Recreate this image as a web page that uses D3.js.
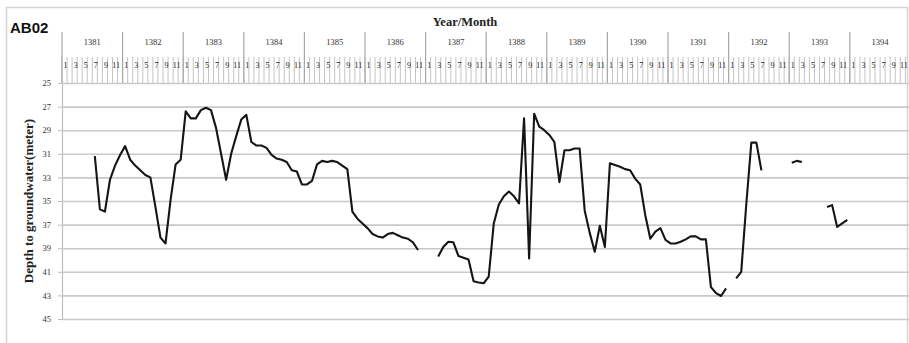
<!DOCTYPE html>
<html><head><meta charset="utf-8">
<script src="https://cdn.jsdelivr.net/npm/d3@7"></script>
<style>body{margin:0;background:#fff}svg{display:block}</style>
</head><body>
<script>
const years = [1381,1382,1383,1384,1385,1386,1387,1388,1389,1390,1391,1392,1393,1394];
const monthLabels = ["1","","3","","5","","7","","9","","11",""];
const yTicks = [25,27,29,31,33,35,37,39,41,43,45];
// depth to groundwater (m), months 1..12 of each year; null = no record
const d1381 = [null,null,null,null,null,null,31.2,35.7,35.9,33.2,32.0,31.1];
const d1382 = [30.35,31.5,32.0,32.4,32.8,33.0,35.5,38.1,38.6,34.9,31.9,31.5];
const d1383 = [27.4,28.0,28.0,27.3,27.1,27.3,28.8,31.0,33.2,31.0,29.5,28.1];
const d1384 = [27.7,30.0,30.3,30.3,30.5,31.1,31.4,31.5,31.7,32.4,32.5,33.6];
const d1385 = [33.6,33.3,31.9,31.6,31.7,31.6,31.7,32.0,32.3,35.9,36.5,36.9];
const d1386 = [37.3,37.8,38.0,38.1,37.8,37.7,37.9,38.1,38.2,38.5,39.15,null];
const d1387 = [null,null,39.7,38.9,38.45,38.5,39.66,39.8,39.95,41.8,41.9,41.97];
const d1388 = [41.4,36.9,35.3,34.6,34.2,34.6,35.2,28.0,39.86,27.6,28.7,29.0];
const d1389 = [29.4,30.0,33.4,30.7,30.7,30.55,30.55,35.8,37.7,39.3,37.1,38.9];
const d1390 = [31.8,31.95,32.1,32.3,32.4,33.1,33.6,36.2,38.2,37.6,37.3,38.3];
const d1391 = [38.6,38.6,38.45,38.25,38.0,38.0,38.25,38.25,42.3,42.8,43.05,42.4];
const d1392 = [null,41.55,41.0,35.3,30.05,30.05,32.4,null,null,null,null,null];
const d1393 = [31.75,31.6,31.7,null,null,null,null,35.5,35.35,37.2,36.9,36.6];
const d1394 = [null,null,null,null,null,null,null,null,null,null,null,null];
const depth = [].concat(d1381,d1382,d1383,d1384,d1385,d1386,d1387,d1388,d1389,d1390,d1391,d1392,d1393,d1394);

const W = 909, H = 343;
const pL = 62, pR = 910.4, pT = 83, pB = 319;
const svg = d3.select("body").append("svg").attr("width", W).attr("height", H);

// outer frame
svg.append("rect").attr("x",6.5).attr("y",7.5).attr("width",901).attr("height",345)
  .attr("fill","none").attr("stroke","#d4d4d4").attr("stroke-width",1.5);

const monthIdx = d3.range(years.length*12);
const x = d3.scaleBand().domain(monthIdx).range([pL, pR]).padding(0);
const y = d3.scaleLinear().domain([25,45]).range([pT, pB]);
const bw = x.bandwidth();

// y axis with gridlines
const ya = svg.append("g").attr("transform",`translate(${pL},0)`)
  .call(d3.axisLeft(y).tickValues(yTicks).tickSizeInner(-(pR-pL)).tickSizeOuter(0).tickPadding(11));
ya.select(".domain").attr("stroke","#bdbdbd").attr("stroke-width",1.2);
ya.selectAll(".tick line").attr("stroke","#c9c9c9").attr("stroke-width",1.6);
ya.selectAll(".tick text").attr("font-family","Liberation Serif, serif").attr("font-size",8.5).attr("fill","#333");
ya.selectAll(".tick").append("line").attr("x1",-4).attr("x2",0).attr("stroke","#bdbdbd");

// header: month separators
const hdr = svg.append("g");
hdr.selectAll("line.m").data(monthIdx).join("line").attr("class","m")
  .attr("x1",d=>x(d)).attr("x2",d=>x(d)).attr("y1",57).attr("y2",pT)
  .attr("stroke","#c4c4c4").attr("stroke-width",1);
hdr.selectAll("line.y").data(years).join("line").attr("class","y")
  .attr("x1",(d,i)=>x(i*12)).attr("x2",(d,i)=>x(i*12)).attr("y1",32).attr("y2",pT)
  .attr("stroke","#a8a8a8").attr("stroke-width",1.2);
hdr.selectAll("text.yr").data(years).join("text").attr("class","yr")
  .attr("x",(d,i)=>x(i*12)+6*bw).attr("y",45).attr("text-anchor","middle")
  .attr("font-family","Liberation Serif, serif").attr("font-size",8.5).attr("fill","#333").text(d=>d);
hdr.selectAll("text.mo").data(monthIdx.filter(i=>monthLabels[i%12]!=="")).join("text").attr("class","mo")
  .attr("x",d=>x(d)+bw/2+1).attr("y",68).attr("text-anchor","middle")
  .attr("font-family","Liberation Serif, serif").attr("font-size",8).attr("fill","#222")
  .text(d=>monthLabels[d%12]);

// titles
svg.append("text").attr("x",10).attr("y",33).attr("font-family","Liberation Sans, Arial, sans-serif")
  .attr("font-weight","bold").attr("font-size",15).attr("fill","#111").text("AB02");
svg.append("text").attr("x",465).attr("y",26).attr("text-anchor","middle")
  .attr("font-family","Liberation Serif, serif").attr("font-weight","bold").attr("font-size",12.5)
  .attr("fill","#222").text("Year/Month");
svg.append("text").attr("transform","translate(33,201) rotate(-90)").attr("text-anchor","middle")
  .attr("font-family","Liberation Serif, serif").attr("font-weight","bold").attr("font-size",13)
  .attr("fill","#222").text("Depth to groundwater(meter)");

// data line
const line = d3.line().defined(d=>d.v!=null).x(d=>x(d.i)+bw/2).y(d=>y(d.v));
svg.append("path").datum(depth.map((v,i)=>({i,v})))
  .attr("d",line).attr("fill","none").attr("stroke","#151515").attr("stroke-width",2.1)
  .attr("stroke-linejoin","round");
</script>
</body></html>
